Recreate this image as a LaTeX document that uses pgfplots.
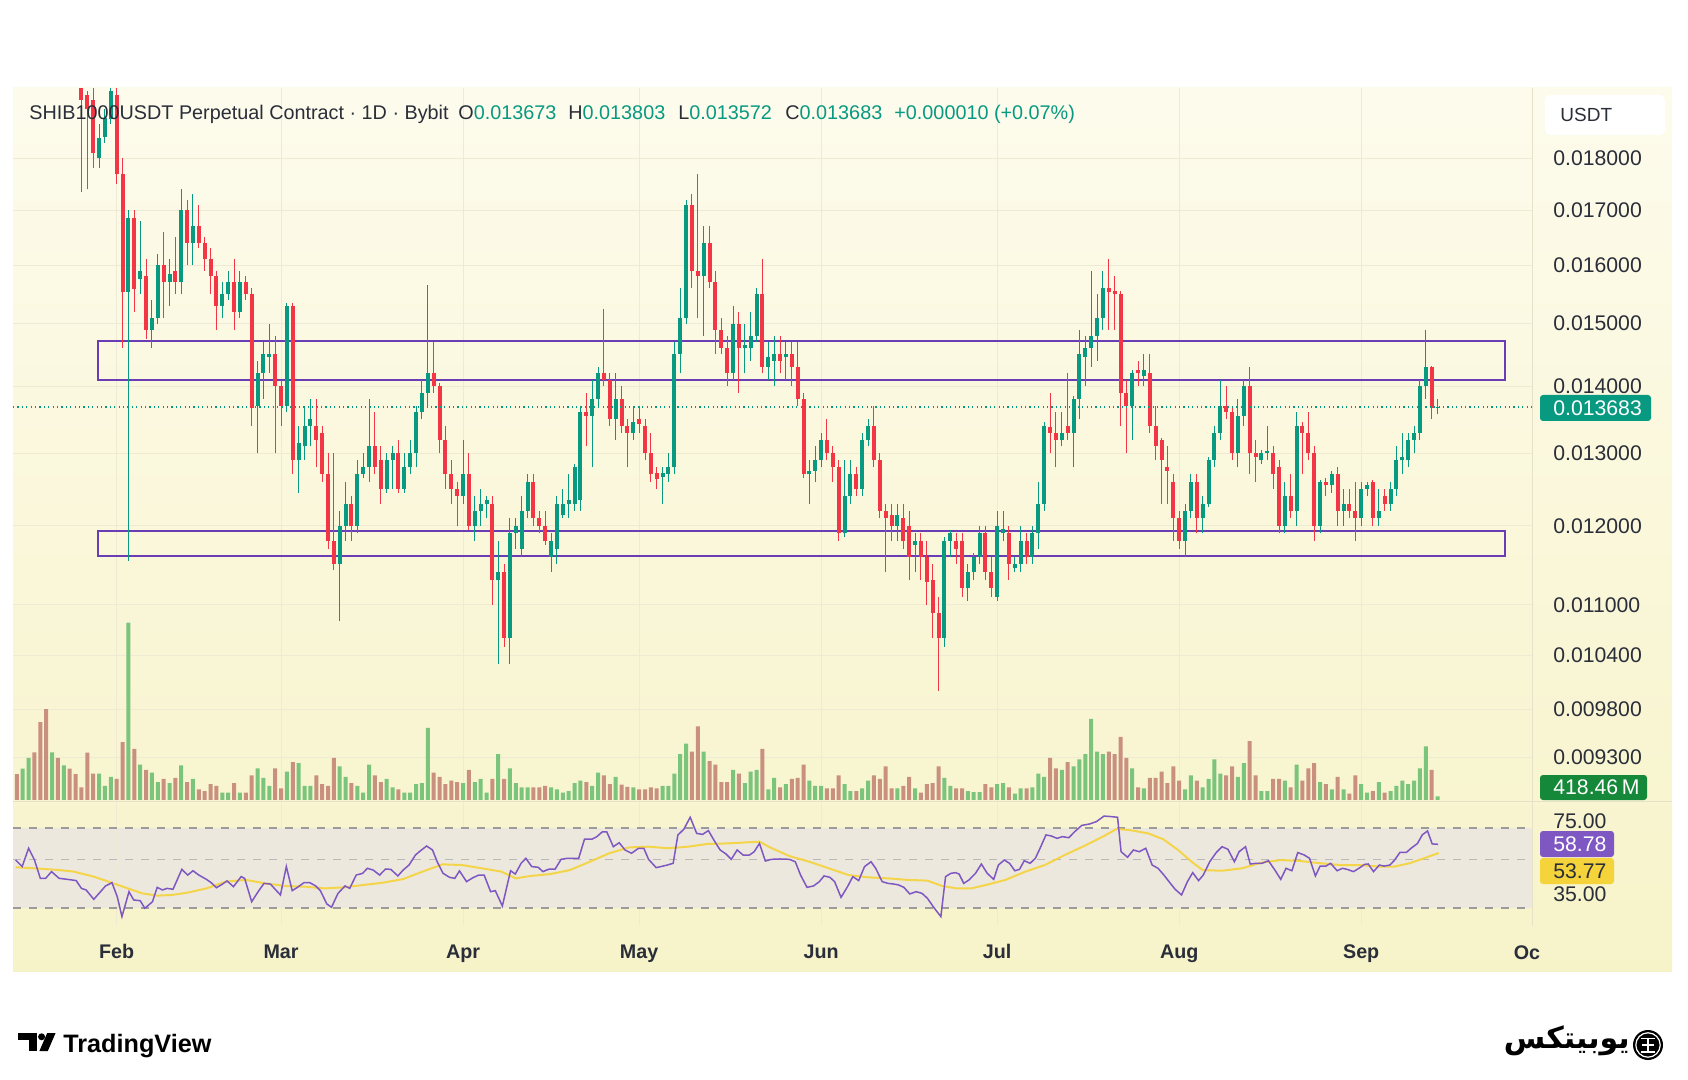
\documentclass[border=0pt]{standalone}
\usepackage{pgfplots}
\pgfplotsset{compat=1.18}
\usepackage{pgfplotstable}
\usepackage{fontspec}
\setmainfont{Liberation Sans}
\newfontfamily\arabicfont[Script=Arabic]{DejaVu Sans}
\TeXXeTstate=1

\definecolor{upc}{HTML}{089981}
\definecolor{dnc}{HTML}{F23645}
\definecolor{vup}{HTML}{7BC47B}
\definecolor{vdn}{HTML}{C9907F}
\definecolor{txtg}{HTML}{2A2E39}
\definecolor{gridc}{HTML}{EEEAD3}
\definecolor{panT}{HTML}{FDFBEC}
\definecolor{panB}{HTML}{F7F3C9}
\definecolor{bandc}{HTML}{ECE8DD}
\definecolor{dashc}{HTML}{9B9B9B}
\definecolor{sepc}{HTML}{E6E2CA}
\definecolor{boxc}{HTML}{6A3DB5}
\definecolor{rsic}{HTML}{7E57C2}
\definecolor{rsima}{HTML}{F5D33B}
\definecolor{volbox}{HTML}{16883A}

\pgfplotstableread{
d o h l c v
-5 0.0200 0.0203 0.01735 0.0192 1440
-4 0.0193 0.0194 0.0174 0.0190 5400
-3 0.0192 0.0196 0.0178 0.0181 3000
-2 0.0180 0.0187 0.0178 0.0184 3000
-1 0.01843 0.0190 0.0183 0.01882 1620
0 0.0188 0.0199 0.0187 0.0194 2640
1 0.0193 0.0199 0.0175 0.0177 2400
2 0.0177 0.0180 0.0146 0.01553 6600
3 0.01553 0.0170 0.01155 0.01685 20220
4 0.01685 0.0170 0.0152 0.01558 5820
5 0.01575 0.0168 0.0155 0.0159 4020
6 0.0158 0.0161 0.01475 0.0149 3420
7 0.0149 0.0154 0.0146 0.0151 3120
8 0.0151 0.0162 0.0150 0.0160 2040
9 0.0160 0.0166 0.0151 0.0157 2400
10 0.0157 0.0161 0.0153 0.01585 1920
11 0.0159 0.0165 0.0155 0.0157 2520
12 0.0157 0.0174 0.0155 0.0170 3960
13 0.0170 0.0172 0.0160 0.0164 2040
14 0.0164 0.0173 0.0160 0.0167 2400
15 0.0167 0.0171 0.0163 0.0164 1200
16 0.0164 0.0165 0.0159 0.0161 1020
17 0.0161 0.0163 0.0155 0.0158 1800
18 0.0158 0.0159 0.0149 0.0153 1620
19 0.0153 0.0157 0.0151 0.0155 840
20 0.0155 0.0159 0.0154 0.0157 840
21 0.0157 0.0161 0.0149 0.0152 1920
22 0.0152 0.0159 0.0151 0.0157 840
23 0.0157 0.0158 0.0154 0.0155 840
24 0.0155 0.0156 0.0134 0.01367 2820
25 0.0137 0.0144 0.0130 0.0142 3600
26 0.0142 0.0147 0.0138 0.0145 2520
27 0.01445 0.0150 0.0142 0.0145 1620
28 0.0145 0.0148 0.0130 0.0140 3600
29 0.0140 0.0141 0.0134 0.0137 1320
30 0.0137 0.01535 0.0136 0.0153 3240
31 0.0153 0.01535 0.0127 0.0129 4320
32 0.0129 0.0134 0.01245 0.01315 4200
33 0.0131 0.0137 0.0129 0.0134 1620
34 0.0134 0.0138 0.0131 0.0135 1620
35 0.0134 0.0138 0.0128 0.0132 2820
36 0.0133 0.0134 0.0126 0.0127 1800
37 0.0127 0.0130 0.0117 0.0118 1620
38 0.0118 0.0130 0.01143 0.0115 4800
39 0.0115 0.0122 0.0108 0.0120 3840
40 0.0120 0.0126 0.0118 0.0123 2640
41 0.0123 0.0124 0.0118 0.0120 1920
42 0.0120 0.0129 0.0119 0.0127 1620
43 0.0127 0.0130 0.01265 0.0128 840
44 0.0128 0.0138 0.0126 0.0131 4020
45 0.0131 0.0136 0.0127 0.0128 2820
46 0.0129 0.0131 0.0123 0.0125 2040
47 0.0125 0.0130 0.01245 0.0129 2400
48 0.0129 0.0131 0.0125 0.0130 1440
49 0.0130 0.0132 0.01245 0.0125 1200
50 0.0125 0.0130 0.01245 0.0128 840
51 0.0128 0.0132 0.0127 0.0130 840
52 0.0130 0.0137 0.0128 0.0136 1800
53 0.0136 0.0141 0.0135 0.0139 1920
54 0.0139 0.01565 0.0137 0.0142 8220
55 0.0142 0.0147 0.0139 0.0140 3120
56 0.0140 0.01405 0.0130 0.0132 2640
57 0.0132 0.0134 0.0125 0.0127 1800
58 0.0127 0.0129 0.0123 0.0125 2220
59 0.0125 0.0126 0.0120 0.0124 2040
60 0.0124 0.0132 0.0123 0.0127 1920
61 0.0127 0.0130 0.01195 0.0120 3420
62 0.0120 0.0124 0.0118 0.0122 2040
63 0.0122 0.0125 0.0120 0.0123 2400
64 0.0123 0.0124 0.0121 0.01235 840
65 0.0123 0.0124 0.0110 0.0113 2400
66 0.0113 0.0118 0.0103 0.0114 5220
67 0.0114 0.0115 0.0105 0.01061 2400
68 0.0106 0.0121 0.0103 0.0119 3600
69 0.0119 0.0121 0.0117 0.0120 1920
70 0.0117 0.0124 0.0116 0.0122 1440
71 0.0122 0.0127 0.0121 0.0126 1440
72 0.0126 0.0127 0.0120 0.0121 1440
73 0.0121 0.0122 0.0119 0.0120 1440
74 0.0120 0.0122 0.01175 0.0118 1620
75 0.0116 0.0119 0.0114 0.0118 1440
76 0.0117 0.0124 0.0115 0.0123 1200
77 0.01215 0.0125 0.0121 0.0123 840
78 0.0123 0.0127 0.0121 0.01235 1020
79 0.0123 0.01285 0.0122 0.0128 1920
80 0.01235 0.0137 0.0122 0.0136 2220
81 0.0136 0.0139 0.0131 0.01355 2040
82 0.01355 0.0141 0.0128 0.0138 1620
83 0.0138 0.0143 0.0137 0.0142 3120
84 0.0142 0.01525 0.0140 0.0141 2820
85 0.0141 0.0142 0.0134 0.0135 1800
86 0.0135 0.0142 0.0132 0.0138 2640
87 0.0138 0.0140 0.0133 0.0134 1740
88 0.0134 0.0135 0.0128 0.0133 1500
89 0.0133 0.0137 0.0132 0.01345 1440
90 0.0135 0.0137 0.0133 0.01343 1200
91 0.0134 0.0135 0.0129 0.0130 1200
92 0.0130 0.0133 0.0126 0.0127 1440
93 0.01272 0.0128 0.0125 0.01263 1320
94 0.01267 0.0128 0.0123 0.01272 1620
95 0.0127 0.0130 0.0126 0.0128 1620
96 0.0128 0.0147 0.0127 0.0145 3000
97 0.0145 0.0156 0.0142 0.0151 5220
98 0.0151 0.0172 0.0150 0.0171 6420
99 0.0171 0.0173 0.0156 0.0159 5520
100 0.0159 0.0177 0.0151 0.0158 8400
101 0.0158 0.0167 0.0148 0.0164 5520
102 0.0164 0.0167 0.0156 0.0157 4440
103 0.0157 0.0159 0.0145 0.0149 4020
104 0.0149 0.0151 0.0145 0.0146 2040
105 0.0146 0.0148 0.0140 0.0142 2040
106 0.0142 0.0153 0.0141 0.0150 3420
107 0.0150 0.0152 0.0139 0.0146 3000
108 0.0146 0.0150 0.0142 0.01465 1920
109 0.0146 0.0152 0.0144 0.0148 3240
110 0.0148 0.0156 0.0147 0.0155 3420
111 0.0155 0.0161 0.0142 0.0143 5820
112 0.0143 0.0147 0.0141 0.01445 1200
113 0.0144 0.0148 0.0140 0.0145 2520
114 0.0145 0.0148 0.0142 0.0144 1440
115 0.01445 0.0147 0.0141 0.0145 1800
116 0.0145 0.0147 0.0140 0.0143 2400
117 0.0143 0.0147 0.0137 0.0138 2520
118 0.0138 0.0139 0.01265 0.0127 4020
119 0.0127 0.0129 0.0123 0.01275 2220
120 0.01275 0.0131 0.0126 0.0129 1620
121 0.0129 0.0133 0.0128 0.0132 1620
122 0.0132 0.0135 0.0129 0.0130 1320
123 0.0130 0.0131 0.0126 0.0128 1320
124 0.0128 0.0129 0.0118 0.0119 2820
125 0.0119 0.0129 0.01185 0.0124 1800
126 0.0124 0.0129 0.0123 0.0127 1020
127 0.0127 0.0128 0.0124 0.0125 1020
128 0.0125 0.0133 0.0124 0.0132 1320
129 0.0132 0.0135 0.0131 0.0134 2220
130 0.0134 0.0137 0.0128 0.0129 2820
131 0.0129 0.0130 0.0121 0.0122 2400
132 0.0122 0.0123 0.0114 0.0121 3840
133 0.01215 0.0123 0.0118 0.0120 1320
134 0.0120 0.0123 0.0118 0.01215 1320
135 0.0121 0.0123 0.0117 0.0118 1620
136 0.0120 0.0122 0.0113 0.0116 2640
137 0.01175 0.0119 0.0114 0.0118 1320
138 0.0118 0.0119 0.0113 0.0116 840
139 0.0116 0.0118 0.0110 0.01128 1800
140 0.0113 0.0115 0.0106 0.0109 1920
141 0.0109 0.0111 0.0100 0.0106 3840
142 0.0106 0.01185 0.0105 0.0118 2520
143 0.0118 0.01195 0.0116 0.0119 1620
144 0.0118 0.0119 0.0115 0.0117 1320
145 0.0118 0.0119 0.0111 0.0112 1320
146 0.0112 0.0115 0.01105 0.0114 1020
147 0.0114 0.01165 0.0113 0.0116 900
148 0.0116 0.0120 0.0115 0.0119 900
149 0.0119 0.0120 0.0113 0.0114 1800
150 0.0114 0.0116 0.0111 0.0112 1440
151 0.0111 0.0122 0.01105 0.0120 1800
152 0.0119 0.0122 0.0118 0.01196 1920
153 0.0119 0.0120 0.0113 0.0115 1440
154 0.01145 0.0116 0.0114 0.0115 720
155 0.0115 0.0120 0.0114 0.0118 1320
156 0.0118 0.0119 0.0115 0.0116 1320
157 0.0116 0.0120 0.0115 0.0119 1440
158 0.0119 0.0126 0.0117 0.0123 3000
159 0.0123 0.01345 0.0122 0.0134 2640
160 0.01338 0.0139 0.0130 0.0133 4800
161 0.0133 0.0136 0.0128 0.0132 3600
162 0.0132 0.0136 0.0131 0.0133 3420
163 0.0134 0.0142 0.0132 0.0133 4320
164 0.0133 0.01385 0.0128 0.0138 3840
165 0.0138 0.0149 0.0135 0.0145 4620
166 0.01445 0.0148 0.0140 0.0146 5220
167 0.0146 0.0159 0.0143 0.0148 9240
168 0.0148 0.0155 0.0144 0.0151 5520
169 0.0151 0.0159 0.0149 0.0156 5220
170 0.0156 0.0161 0.0149 0.01553 5520
171 0.01555 0.0158 0.0149 0.0155 5220
172 0.0155 0.01555 0.0134 0.0139 7200
173 0.0139 0.0141 0.0130 0.0137 4800
174 0.0137 0.01425 0.0132 0.0142 3600
175 0.01425 0.0144 0.0140 0.0142 1440
176 0.01415 0.0145 0.0140 0.01425 1320
177 0.0142 0.0145 0.0133 0.0134 2520
178 0.0134 0.0137 0.0129 0.0131 2520
179 0.0132 0.01322 0.0123 0.0129 3240
180 0.0128 0.0131 0.0123 0.01275 1920
181 0.0126 0.0127 0.0118 0.0121 3840
182 0.0121 0.0122 0.0117 0.0118 2220
183 0.0118 0.0123 0.0116 0.0122 1200
184 0.0122 0.0127 0.0121 0.0126 2820
185 0.0126 0.0127 0.0119 0.0121 2220
186 0.0121 0.0124 0.0119 0.0123 1440
187 0.0123 0.01295 0.01225 0.0129 2400
188 0.0129 0.0134 0.0128 0.0133 4620
189 0.0133 0.0141 0.0132 0.0137 3000
190 0.0137 0.0140 0.0135 0.0136 2820
191 0.0136 0.0137 0.0129 0.0130 3840
192 0.0130 0.0138 0.0128 0.01355 2640
193 0.01355 0.0141 0.0134 0.0140 4200
194 0.0140 0.0143 0.0127 0.0130 6720
195 0.0130 0.0132 0.0126 0.01295 2820
196 0.0129 0.01305 0.01285 0.0130 1020
197 0.0130 0.0134 0.0129 0.01303 1020
198 0.0130 0.0131 0.0125 0.0127 2400
199 0.0128 0.0129 0.0119 0.0120 2400
200 0.0120 0.0126 0.0119 0.0124 2220
201 0.0124 0.0127 0.0121 0.0122 1440
202 0.0122 0.0136 0.0120 0.0134 4020
203 0.0134 0.01345 0.0127 0.0133 2220
204 0.0133 0.0136 0.0129 0.0130 3600
205 0.0130 0.0131 0.0118 0.0120 4200
206 0.0120 0.01262 0.0119 0.0126 2040
207 0.0126 0.01265 0.0124 0.01255 1800
208 0.01255 0.01275 0.01245 0.0127 1200
209 0.0127 0.0128 0.0120 0.0122 2640
210 0.0122 0.0125 0.0120 0.0123 1200
211 0.0123 0.0125 0.0121 0.0122 720
212 0.0122 0.0126 0.0118 0.0121 2820
213 0.0121 0.0126 0.0120 0.0125 1800
214 0.0125 0.0126 0.0124 0.01255 840
215 0.0126 0.01262 0.0120 0.0121 1020
216 0.0121 0.0125 0.0120 0.0122 2040
217 0.0124 0.0125 0.0122 0.0123 840
218 0.0123 0.0126 0.0122 0.0125 1020
219 0.0125 0.0131 0.0124 0.0129 1620
220 0.0129 0.0133 0.0127 0.01295 2220
221 0.0129 0.0133 0.0128 0.0132 1800
222 0.0132 0.0134 0.0130 0.0133 2220
223 0.0133 0.0141 0.0132 0.0140 3600
224 0.0140 0.0149 0.0138 0.0143 6120
225 0.0143 0.01432 0.0135 0.01367 3420
226 0.013673 0.013803 0.013572 0.013683 418.46
}\candles

\pgfplotstableread{
d v up
-16 2960 0
-15 3580 1
-14 4810 1
-13 5430 0
-12 8880 0
-11 10370 0
-10 5430 1
-9 4810 0
-8 3950 1
-7 3580 0
-6 2960 0
}\prevol

\pgfplotstableread{
d v
-16.2 49.7
-15.1 45.9
-14.0 56.5
-13.0 49.7
-12.0 39.1
-11.1 39.1
-10.1 43.0
-8.8 39.1
-7.8 38.7
-6.7 38.2
-5.9 37.8
-5.0 33.3
-4.2 32.4
-2.9 27.0
-1.9 30.8
-0.9 34.7
0.2 36.6
1.1 28.5
1.9 17.0
3.1 31.4
3.9 26.6
5.0 26.2
5.8 21.8
7.1 25.6
7.9 33.9
8.8 32.4
9.6 33.3
10.6 32.8
12.1 44.3
13.1 41.0
14.0 43.5
15.0 41.0
16.3 38.5
17.1 36.6
18.0 33.7
18.8 35.3
19.8 37.6
20.9 34.3
22.2 40.1
22.8 39.1
24.0 25.6
25.1 31.4
26.1 36.2
27.2 35.8
28.0 32.8
28.9 29.5
29.9 45.9
30.9 32.0
31.8 33.9
32.9 36.6
33.9 36.6
34.9 34.7
35.7 32.0
36.8 24.3
37.6 22.4
38.7 30.4
39.9 34.7
40.7 33.3
41.8 41.0
42.9 42.0
43.7 44.9
44.7 43.9
45.8 41.0
46.8 44.5
47.7 44.3
48.9 40.5
49.8 43.9
50.8 46.8
51.9 52.6
52.7 54.9
53.8 57.8
54.8 55.5
55.6 48.7
56.6 42.0
57.7 39.7
58.6 39.1
59.4 43.4
60.6 37.2
61.7 39.5
62.7 41.0
63.6 41.0
64.7 31.4
65.5 32.0
66.7 23.1
68.1 43.5
68.9 41.6
69.9 47.8
70.7 50.7
71.7 45.9
72.8 45.5
73.6 43.0
74.7 44.5
75.7 44.5
76.7 50.1
77.8 50.7
78.9 50.7
79.7 50.7
80.7 61.8
82.0 61.8
82.8 63.2
83.7 65.9
84.5 65.9
85.6 57.4
86.6 59.7
87.6 55.5
88.7 53.6
89.9 56.5
90.8 56.5
91.6 50.1
92.9 45.3
93.7 45.9
94.8 46.8
95.8 47.8
96.6 64.2
97.6 67.4
98.7 74.4
99.8 65.1
100.8 64.5
101.8 66.7
102.9 60.3
103.8 55.5
104.8 53.2
105.7 50.1
106.7 55.5
107.7 52.6
108.8 52.6
109.6 54.5
110.5 59.3
111.5 49.1
112.5 50.1
114.0 50.3
115.6 50.1
116.6 48.7
117.5 41.0
118.6 33.9
119.7 34.7
120.7 37.2
121.5 40.5
122.5 39.7
123.3 37.2
124.4 28.1
125.5 34.3
126.4 40.1
127.4 37.8
128.4 45.9
129.5 48.7
130.3 44.9
131.4 37.2
132.4 36.2
133.4 35.8
134.2 35.3
135.1 33.9
136.1 30.1
137.2 31.4
138.2 30.4
139.1 27.6
140.3 21.8
141.4 17.0
142.2 40.1
143.1 42.0
143.9 42.4
144.5 41.6
145.3 36.2
146.2 38.2
147.3 42.0
148.3 47.4
149.3 42.0
150.4 38.5
151.2 46.8
152.2 49.7
153.1 47.8
154.0 43.5
154.8 44.3
155.6 49.3
156.6 47.8
157.5 50.7
158.3 56.5
159.3 64.2
160.2 63.6
161.2 62.2
162.1 63.2
163.2 62.6
164.2 66.1
165.4 69.7
166.7 70.5
167.9 71.9
169.2 75.1
170.4 74.8
171.5 74.4
172.1 54.5
173.2 51.3
174.2 55.5
175.2 54.5
176.3 56.5
177.4 46.8
178.4 44.9
179.4 41.0
180.5 36.2
181.3 32.8
182.4 29.5
183.4 37.2
184.3 42.4
185.3 37.8
186.1 41.0
187.2 48.7
188.3 54.0
189.3 57.4
190.3 55.9
191.4 48.7
192.2 54.5
193.3 57.4
194.1 47.4
195.1 47.8
196.1 47.8
197.2 49.3
198.3 43.9
199.3 38.5
200.2 44.9
201.2 43.5
202.2 54.0
203.3 52.6
204.2 50.7
205.2 40.5
206.0 46.2
207.0 46.2
207.8 47.8
208.9 43.5
209.8 44.9
210.6 44.3
211.7 43.0
212.6 44.9
213.6 47.2
214.2 47.4
215.1 43.0
216.1 46.8
216.9 46.2
217.9 46.8
218.7 49.7
219.6 54.1
220.7 54.1
221.5 56.5
222.6 59.3
223.4 64.2
224.3 66.5
225.1 59.0
226.1 58.78
}\rsitab

\pgfplotstableread{
d v
-16.2 45.5
-13.0 44.9
-8.8 43.9
-6.3 43.0
-2.9 40.1
-0.4 37.2
2.9 33.3
5.4 30.4
7.9 29.1
10.4 29.5
13.0 30.8
16.3 33.3
19.6 37.2
23.0 38.2
26.3 36.2
29.7 34.7
33.0 34.3
36.4 33.3
39.7 33.9
43.1 35.3
46.4 36.6
49.8 38.7
53.1 43.0
56.5 47.2
59.8 46.8
63.2 44.9
66.5 43.0
69.0 39.1
71.5 40.5
74.9 41.6
78.2 43.9
81.6 48.7
84.9 53.6
88.3 57.0
91.6 57.4
95.0 56.5
98.3 57.4
101.7 59.0
105.0 59.3
108.3 59.9
110.5 60.3
112.3 57.0
115.6 52.0
119.0 48.7
122.3 44.9
125.7 41.0
129.0 39.7
132.4 39.1
135.7 38.2
139.1 37.8
141.6 34.7
144.1 33.3
146.6 33.3
149.1 35.3
152.4 38.2
155.8 43.0
159.1 46.8
162.5 52.6
165.8 57.8
169.2 63.6
171.3 67.6
173.4 67.1
176.7 65.1
179.3 61.7
181.8 55.5
184.3 48.2
186.0 43.9
189.3 43.5
192.7 44.9
196.0 48.2
199.4 49.7
202.7 49.1
206.1 47.8
209.4 46.8
212.8 46.8
216.1 45.9
218.6 45.9
221.2 47.8
223.7 50.7
226.2 53.77
}\rsimatab

\pgfplotsset{
  panebase/.style={at={(6.5pt,-44pt)}, anchor=north west, scale only axis,
    width=759.5pt, height=356pt, xmin=-16.66, xmax=242.1},
  candle/.style 2 args={draw=none, mark=none, forget plot,
    error bars/.cd, y dir=plus, y explicit, error mark=none,
    error bar style={line width=#1, draw=#2, solid}},
}

\begin{document}
\begin{tikzpicture}
% page and panel backgrounds
\fill[white] (0pt,0pt) rectangle (844pt,-540pt);
\shade[top color=panT, bottom color=panB] (6.5pt,-44pt) rectangle (836pt,-485.5pt);
\fill[bandc] (6.5pt,-414pt) rectangle (766pt,-454pt);
\draw[sepc, line width=0.5pt] (766pt,-44pt) -- (766pt,-463pt);
\draw[sepc, line width=0.5pt] (6.5pt,-400.5pt) -- (836pt,-400.5pt);

% grid + price scale
\begin{axis}[ymode=log, ymin=0.008869, ymax=0.019451, panebase,
  axis line style={draw=none}, major tick length=0pt,
  xtick={1,29,60,90,121,151,182,213}, xticklabels={},
  ytick={0.0093,0.0098,0.0104,0.011,0.012,0.013,0.014,0.015,0.016,0.017,0.018},
  yticklabels={0.009300,0.009800,0.010400,0.011000,0.012000,0.013000,0.014000,0.015000,0.016000,0.017000,0.018000},
  yticklabel pos=right,
  grid=major, major grid style={gridc, line width=0.5pt},
  yticklabel style={font=\fontsize{10.6}{12}\selectfont, text=txtg, anchor=west, xshift=10.5pt, inner sep=0pt},
  /pgf/number format/assume math mode=true]
\addplot[draw=none] coordinates {(0,0.012)};
\end{axis}

% volume
\begin{axis}[panebase, ymin=0, ymax=81200, hide axis]
\addplot[ybar, bar width=2pt, bar shift=0pt, draw=none, fill=vup]
  table[x=d, y expr={\thisrow{c}>=\thisrow{o} ? \thisrow{v} : nan}] {\candles};
\addplot[ybar, bar width=2pt, bar shift=0pt, draw=none, fill=vdn]
  table[x=d, y expr={\thisrow{c}<\thisrow{o} ? \thisrow{v} : nan}] {\candles};
\addplot[ybar, bar width=2pt, bar shift=0pt, draw=none, fill=vup]
  table[x=d, y expr={\thisrow{up}>0.5 ? \thisrow{v} : nan}] {\prevol};
\addplot[ybar, bar width=2pt, bar shift=0pt, draw=none, fill=vdn]
  table[x=d, y expr={\thisrow{up}<0.5 ? \thisrow{v} : nan}] {\prevol};
\end{axis}

% candles
\begin{axis}[ymode=log, ymin=0.008869, ymax=0.019451, panebase, hide axis]
\draw[boxc, line width=1pt] (axis cs:-2.18,0.014714) rectangle (axis cs:237.5,0.014095);
\draw[boxc, line width=1pt] (axis cs:-2.18,0.011933) rectangle (axis cs:237.5,0.011608);
\addplot[candle={0.5pt}{upc}]
  table[x=d, y expr={\thisrow{c}>=\thisrow{o} ? \thisrow{l} : nan},
        y error plus expr={\thisrow{h}-\thisrow{l}}] {\candles};
\addplot[candle={0.5pt}{dnc}]
  table[x=d, y expr={\thisrow{c}<\thisrow{o} ? \thisrow{l} : nan},
        y error plus expr={\thisrow{h}-\thisrow{l}}] {\candles};
\addplot[candle={2pt}{upc}]
  table[x=d, y expr={\thisrow{c}>=\thisrow{o} ? \thisrow{o} : nan},
        y error plus expr={\thisrow{c}-\thisrow{o}}] {\candles};
\addplot[candle={2pt}{dnc}]
  table[x=d, y expr={\thisrow{c}<\thisrow{o} ? \thisrow{c} : nan},
        y error plus expr={\thisrow{o}-\thisrow{c}}] {\candles};
\addplot[upc, line width=0.6pt, dash pattern=on 0.6pt off 1.6pt] coordinates {(-16.66,0.013683) (242.1,0.013683)};
\end{axis}

% RSI pane
\begin{axis}[at={(6.5pt,-400pt)}, anchor=north west, scale only axis,
  width=759.5pt, height=62.5pt, xmin=-16.66, xmax=242.1, ymin=12.14, ymax=84.39,
  axis line style={draw=none}, major tick length=0pt, ytick=\empty,
  xtick={1,29,60,90,121,151,182,213},
  xticklabels={Feb,Mar,Apr,May,Jun,Jul,Aug,Sep},
  xmajorgrids, major grid style={gridc, line width=0.5pt},
  xticklabel style={font=\bfseries\fontsize{9.85}{12}\selectfont, text=txtg, anchor=base, yshift=-17pt, inner sep=0pt}]
\draw[dashc, line width=0.75pt, dash pattern=on 4pt off 4pt] (axis cs:-16.66,68.2) -- (axis cs:242.1,68.2);
\draw[dashc!70, line width=0.75pt, dash pattern=on 4pt off 4pt] (axis cs:-16.66,50) -- (axis cs:242.1,50);
\draw[dashc, line width=0.75pt, dash pattern=on 4pt off 4pt] (axis cs:-16.66,22) -- (axis cs:242.1,22);
\addplot[rsima, line width=1pt, opacity=0.9] table[x=d, y=v] {\rsimatab};
\addplot[rsic, line width=0.75pt] table[x=d, y=v] {\rsitab};
\end{axis}

% header legend
\begin{scope}[every node/.style={inner sep=0pt, anchor=base west, font=\fontsize{9.9}{12}\selectfont, text=txtg}]
\node at (14.5pt,-60pt) {SHIB1000USDT Perpetual Contract · 1D · Bybit};
\node at (229pt,-60pt) {O\textcolor{upc}{0.013673}};
\node at (284pt,-60pt) {H\textcolor{upc}{0.013803}};
\node at (339pt,-60pt) {L\textcolor{upc}{0.013572}};
\node at (392.5pt,-60pt) {C\textcolor{upc}{0.013683}};
\node[text=upc] at (447pt,-60pt) {+0.000010 (+0.07\%)};
\end{scope}

% right scale decorations
\fill[white, rounded corners=3pt] (772.5pt,-47.5pt) rectangle (832.5pt,-67.5pt);
\node[anchor=west, inner sep=0pt, font=\fontsize{9.5}{12}\selectfont, text=txtg] at (780pt,-57.5pt) {USDT};
\fill[upc, rounded corners=1.5pt] (770pt,-197.5pt) rectangle (825.5pt,-210.5pt);
\node[anchor=west, inner sep=0pt, font=\fontsize{10.6}{12}\selectfont, text=white] at (776.5pt,-204pt) {0.013683};
\fill[volbox, rounded corners=1.5pt] (770pt,-387.5pt) rectangle (823.5pt,-400pt);
\node[anchor=west, inner sep=0pt, font=\fontsize{10.6}{12}\selectfont, text=white] at (776.5pt,-393.75pt) {418.46\,M};
\node[anchor=west, inner sep=0pt, font=\fontsize{10.6}{12}\selectfont, text=txtg] at (776.5pt,-410.5pt) {75.00};
\fill[rsic, rounded corners=1.5pt] (770pt,-415.5pt) rectangle (807pt,-428.5pt);
\node[anchor=west, inner sep=0pt, font=\fontsize{10.6}{12}\selectfont, text=white] at (776.5pt,-422pt) {58.78};
\fill[rsima, rounded corners=1.5pt] (770pt,-429pt) rectangle (807pt,-442pt);
\node[anchor=west, inner sep=0pt, font=\fontsize{10.6}{12}\selectfont, text=txtg] at (776.5pt,-435.5pt) {53.77};
\node[anchor=west, inner sep=0pt, font=\fontsize{10.6}{12}\selectfont, text=txtg] at (776.5pt,-447pt) {35.00};
\node[anchor=base, inner sep=0pt, font=\bfseries\fontsize{9.85}{12}\selectfont, text=txtg] at (763.5pt,-479.5pt) {Oc};

% TradingView logo
\fill[black] (9pt,-516.5pt) rectangle (18.5pt,-520pt);
\fill[black] (14.5pt,-516.5pt) rectangle (18.5pt,-525.5pt);
\fill[black] (20.8pt,-518.4pt) circle (1.75pt);
\fill[black] (23.6pt,-516.5pt) -- (27.8pt,-516.5pt) -- (23.9pt,-525.5pt) -- (19.7pt,-525.5pt) -- cycle;
\node[anchor=base west, inner sep=0pt, font=\bfseries\fontsize{12.6}{14}\selectfont] at (31.5pt,-526pt) {TradingView};

% Ubitex logo
\node[anchor=base east, inner sep=0pt] at (815pt,-524pt) {\arabicfont\bfseries\fontsize{15}{18}\selectfont\beginR یوبیتکس\endR};
\fill[black] (824pt,-522.5pt) circle (7.5pt);
\draw[white, line width=0.6pt] (824pt,-522.5pt) circle (6.1pt);
\draw[white, line width=0.9pt] (824pt,-518.8pt) -- (824pt,-526.2pt);
\draw[white, line width=0.9pt] (820.6pt,-519.2pt) -- (827.4pt,-519.2pt);
\draw[white, line width=0.9pt] (821pt,-522.5pt) -- (827pt,-522.5pt);
\draw[white, line width=0.9pt] (820.6pt,-525.8pt) -- (827.4pt,-525.8pt);
\end{tikzpicture}
\end{document}
